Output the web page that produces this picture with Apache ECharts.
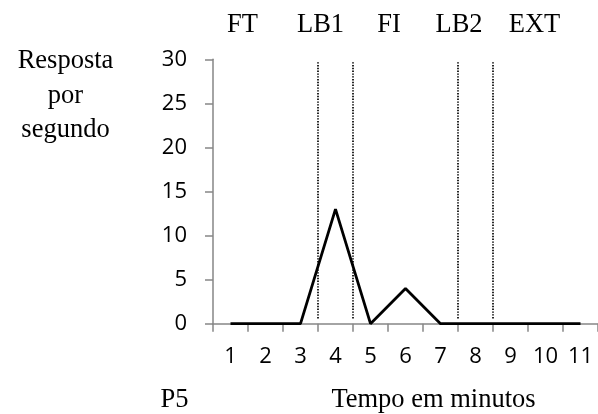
<!DOCTYPE html>
<html>
<head>
<meta charset="utf-8">
<script src="https://cdn.jsdelivr.net/npm/echarts@6/dist/echarts.min.js"></script>
<style>
html,body{margin:0;padding:0;background:#fff;}
#chart{width:598px;height:414px;}
</style>
</head>
<body>
<div id="chart"></div>
<script>
// Data
var minutes = ['1','2','3','4','5','6','7','8','9','10','11'];
var responses = [0,0,0,13,0,4,0,0,0,0,0];
var phaseBoundaries = [3.5, 4.5, 7.5, 8.5];
var boundaryRange = [0.6, 29.8];
var phaseLabels = ['FT','LB1','FI','LB2','EXT'];

var serif = '"Liberation Serif","Times New Roman",serif';
var sans = '"Open Sans","DejaVu Sans",sans-serif';
var phaseLabelX = [242.5, 320.5, 389, 459, 534.5];

var chart = echarts.init(document.getElementById('chart'), null, {renderer:'canvas'});

var series = [{
  type:'line',
  xAxisIndex:0, yAxisIndex:0,
  data: responses,
  symbol:'none',
  lineStyle:{color:'#000', width:2.8},
  z:5
}];
phaseBoundaries.forEach(function(b){
  series.push({
    type:'line',
    xAxisIndex:1, yAxisIndex:0,
    data:[[b, boundaryRange[0]],[b, boundaryRange[1]]],
    symbol:'none',
    lineStyle:{color:'#000', width:1.7, type:[1.4,1.4]},
    z:3
  });
});

var serifFont = '26.5px '+serif;
var graphics = phaseLabels.map(function(t,i){
  return {type:'text', x:phaseLabelX[i], y:25.5,
    style:{text:t, font:serifFont, fill:'#000', textAlign:'center', textVerticalAlign:'middle'}};
});
graphics.push({type:'text', x:65.5, y:44,
  style:{text:'Resposta\npor\nsegundo', font:serifFont, fill:'#000', textAlign:'center', textVerticalAlign:'top', lineHeight:34.5}});
graphics.push({type:'text', x:174.5, y:400,
  style:{text:'P5', font:serifFont, fill:'#000', textAlign:'center', textVerticalAlign:'middle'}});
graphics.push({type:'text', x:433.5, y:400,
  style:{text:'Tempo em minutos', font:serifFont, fill:'#000', textAlign:'center', textVerticalAlign:'middle'}});

chart.setOption({
  animation:false,
  backgroundColor:'#fff',
  grid:{left:213, top:59.3, right:-5.5, bottom:90.3, containLabel:false},
  xAxis:[{
    type:'category',
    data:minutes,
    boundaryGap:true,
    axisLine:{lineStyle:{color:'#868686', width:1.5}},
    axisTick:{show:true, length:8, alignWithLabel:false, lineStyle:{color:'#868686', width:1.5}},
    axisLabel:{color:'#000', fontFamily:sans, fontSize:22, margin:22, interval:0}
  },{
    type:'value', min:0.5, max:11.5, show:false
  }],
  yAxis:[{
    type:'value', min:0, max:30, interval:5,
    axisLine:{show:true, lineStyle:{color:'#868686', width:1.5}},
    axisTick:{show:true, length:8, lineStyle:{color:'#868686', width:1.5}},
    splitLine:{show:false},
    axisLabel:{color:'#000', fontFamily:sans, fontSize:22, margin:26}
  }],
  series:series,
  graphic:graphics
});
</script>
</body>
</html>
